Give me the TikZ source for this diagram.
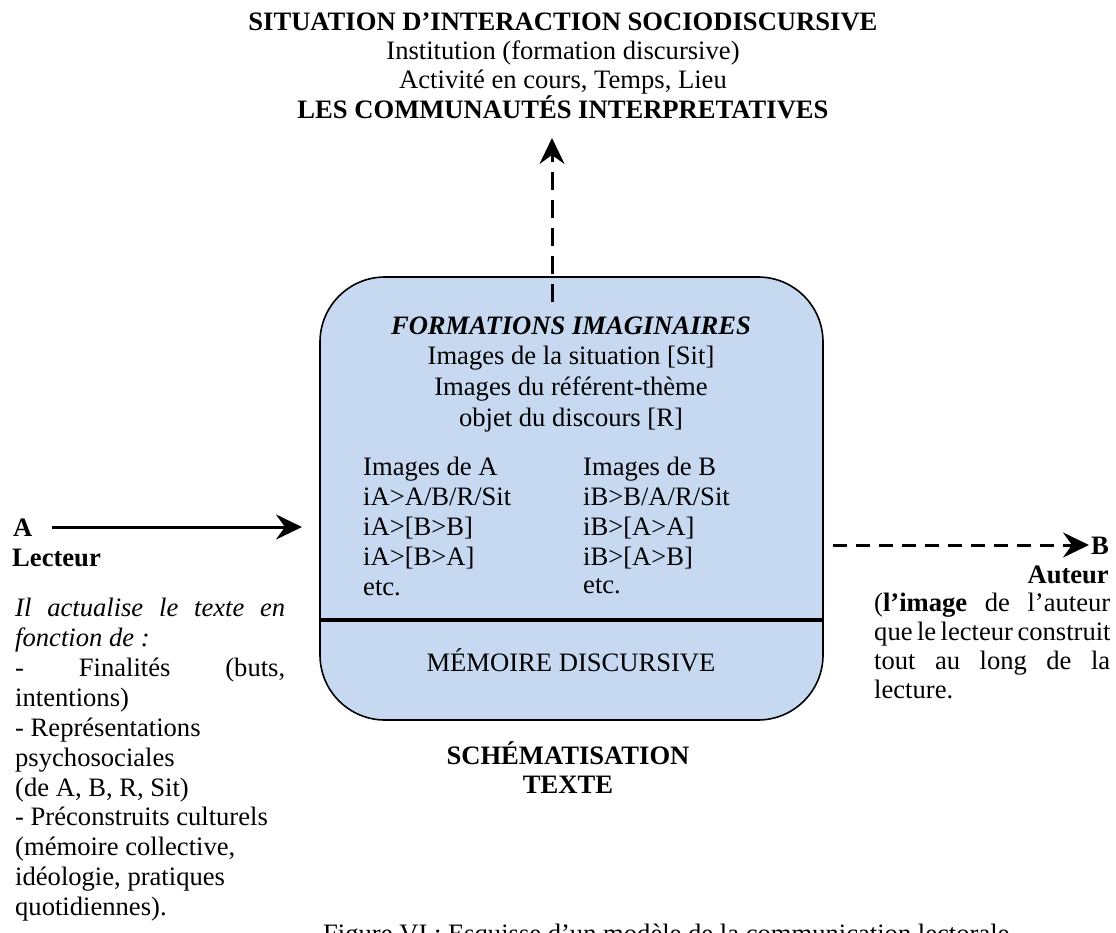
\documentclass[tikz,border=0pt]{standalone}
\usepackage{fontspec}
\setmainfont{Liberation Serif}
\usetikzlibrary{arrows.meta}
\definecolor{boxblue}{RGB}{198,217,241}
\newcommand{\bodysize}{\fontsize{26.6}{30}\selectfont}
\tikzset{
  tx/.style={inner sep=0pt, font=\bodysize},
  tl/.style={tx, anchor=base west},
  tc/.style={tx, anchor=base},
  tr/.style={tx, anchor=base east},
  bf/.style={font=\bfseries\bodysize},
  frame/.style={draw=black, line width=1.6pt, fill=boxblue, rounded corners=65pt, inner sep=0pt},
  tipstyle/.style={-{Stealth[length=26pt,width=25pt,inset=9pt]}},
  solidarrow/.style={tipstyle, line width=3pt},
  dasharrowv/.style={tipstyle, line width=3pt, dash pattern=on 18pt off 10pt},
  dasharrowh/.style={tipstyle, line width=3pt, dash pattern=on 14pt off 9pt},
}
\begin{document}
\begin{tikzpicture}[x=1pt,y=-1pt]
\useasboundingbox (0,0) rectangle (1116,933);
\clip (0,0) rectangle (1116,933);
% top block
\node[tc, bf] (t1) at (563,31) {SITUATION D’INTERACTION SOCIODISCURSIVE};
\node[tc] (t2) at (563,60) {Institution (formation discursive)};
\node[tc] (t3) at (563,89) {Activité en cours, Temps, Lieu};
\node[tc, bf] (t4) at (563,119) {LES COMMUNAUTÉS INTERPRETATIVES};
% box
\node[frame, minimum width=503pt, minimum height=443pt] (box) at (571.5,498.5) {};
\coordinate (divL) at (320,620);
\coordinate (divR) at (823,620);
\draw[line width=3.5pt] (divL) -- (divR);
\node[tc, font=\bfseries\itshape\bodysize] (fi) at (571,334) {FORMATIONS IMAGINAIRES};
\node[tc] (b1) at (571,364) {Images de la situation [Sit]};
\node[tc] (b2) at (571,395) {Images du référent-thème};
\node[tc] (b3) at (571,426) {objet du discours [R]};
\node[tl] (la1) at (363,475) {Images de A};
\node[tl] (la2) at (363,505) {iA>A/B/R/Sit};
\node[tl] (la3) at (363,535) {iA>[B>B]};
\node[tl] (la4) at (363,565) {iA>[B>A]};
\node[tl] (la5) at (363,595) {etc.};
\node[tl] (rb1) at (583,475) {Images de B};
\node[tl] (rb2) at (583,505) {iB>B/A/R/Sit};
\node[tl] (rb3) at (583,535) {iB>[A>A]};
\node[tl] (rb4) at (583,565) {iB>[A>B]};
\node[tl] (rb5) at (583,593) {etc.};
\node[tc] (mem) at (571,671) {MÉMOIRE DISCURSIVE};
% below box
\node[tc, bf] (s1) at (568,764) {SCHÉMATISATION};
\node[tc, bf] (s2) at (568,793) {TEXTE};
% left side
\node[tl, bf] (A) at (13,536) {A};
\node[tl, bf] (lect) at (12,566) {Lecteur};
\node[tl] (l1) at (15,616) {\makebox[270pt][s]{\itshape Il actualise le texte en}};
\node[tl] (l2) at (15,646) {\itshape fonction de :};
\node[tl] (l3) at (15,676) {\makebox[270pt][s]{- Finalités (buts,}};
\node[tl] (l4) at (15,706) {intentions)};
\node[tl] (l5) at (15,736) {- Représentations};
\node[tl] (l6) at (15,766) {psychosociales};
\node[tl] (l7) at (15,796) {(de A, B, R, Sit)};
\node[tl] (l8) at (15,825) {- Préconstruits culturels};
\node[tl] (l9) at (15,855) {(mémoire collective,};
\node[tl] (l10) at (15,885) {idéologie, pratiques};
\node[tl] (l11) at (15,915) {quotidiennes).};
% right side
\node[tl, bf] (B) at (1091,554) {B};
\node[tr, bf] (aut) at (1109,583) {Auteur};
\node[tl] (r1) at (874,611) {\makebox[236pt][s]{(\textbf{l’image} de l’auteur}};
\node[tl] (r2) at (874,640) {\makebox[236pt][s]{que le lecteur construit}};
\node[tl] (r3) at (874,669) {\makebox[236pt][s]{tout au long de la}};
\node[tl] (r4) at (874,698) {lecture.};
% caption
\node[tl] (cap) at (323,942) {Figure VI : Esquisse d’un modèle de la communication lectorale};
% arrows
\coordinate (upS) at (552,302);
\coordinate (upE) at (552,138);
\draw[dasharrowv] (upS) -- (upE);
\coordinate (lS) at (52,527);
\coordinate (lE) at (302,527);
\draw[solidarrow] (lS) -- (lE);
\coordinate (rS) at (833,545);
\coordinate (rE) at (1089,545);
\draw[dasharrowh] (rS) -- (rE);
\end{tikzpicture}
\end{document}
